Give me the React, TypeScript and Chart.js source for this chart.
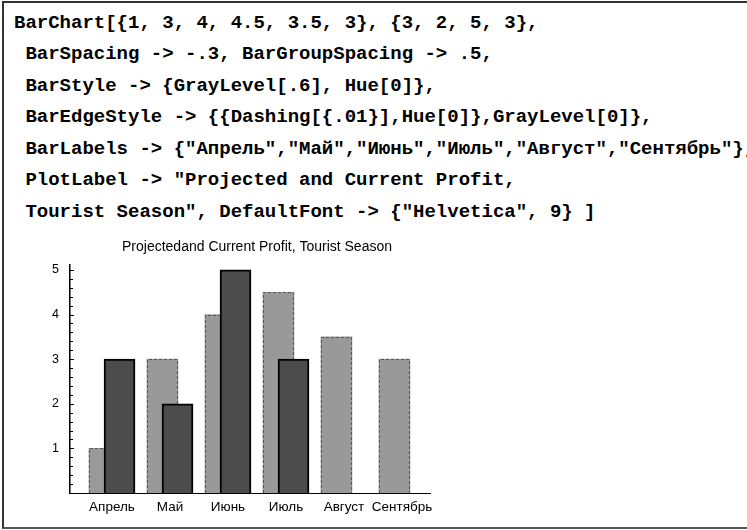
import { useEffect, useRef } from "react";
import { Chart, registerables } from "chart.js";

Chart.register(...registerables);

// ---- text of the notebook input cell ----
const CODE_LINES = [
  "BarChart[{1, 3, 4, 4.5, 3.5, 3}, {3, 2, 5, 3},",
  " BarSpacing -> -.3, BarGroupSpacing -> .5,",
  " BarStyle -> {GrayLevel[.6], Hue[0]},",
  " BarEdgeStyle -> {{Dashing[{.01}],Hue[0]},GrayLevel[0]},",
  ' BarLabels -> {"Апрель","Май","Июнь","Июль","Август","Сентябрь"},',
  ' PlotLabel -> "Projected and Current Profit,',
  ' Tourist Season", DefaultFont -> {"Helvetica", 9} ]',
];

// ---- chart data ----
const TITLE = "Projectedand Current Profit, Tourist Season";
const CATEGORIES = ["Апрель", "Май", "Июнь", "Июль", "Август", "Сентябрь"];
const PROJECTED = [1, 3, 4, 4.5, 3.5, 3];
const CURRENT = [3, 2, 5, 3];
const Y_TICK_LABELS = [1, 2, 3, 4, 5];
const Y_MIN = 0;
const Y_MAX = 5.11;
const Y_MINOR_STEP = 0.2;

// ---- layout / style constants ----
const BAR_SHIFT = 0.13; // half the offset between the two overlapping bars, in category units
const X_MIN = -0.724;
const X_MAX = 5.483;
const SANS = '"Liberation Sans", Arial, Helvetica, sans-serif';
const MONO = '"Liberation Mono", "DejaVu Sans Mono", monospace';
const CODE_FONT = 19;
const CODE_LEFT = 14;
const CODE_FIRST_Y = 23.5;
const CODE_STEP = 31.5;

export default function App() {
  const ref = useRef<HTMLCanvasElement>(null);

  useEffect(() => {
    const canvas = ref.current;
    if (!canvas) return;

    const dashedEdges = {
      id: "dashedEdges",
      afterDatasetDraw(chart: any, args: any) {
        const ds = chart.data.datasets[args.index];
        if (ds.label !== "Projected") return;
        const ctx = chart.ctx;
        ctx.save();
        ctx.strokeStyle = "#555555";
        ctx.lineWidth = 1;
        ctx.setLineDash([3, 2]);
        args.meta.data.forEach((el: any) => {
          const p = el.getProps(["x", "y", "base", "width"], true);
          const left = Math.round(p.x - p.width / 2) + 0.5;
          const right = Math.round(p.x + p.width / 2) - 0.5;
          const top = Math.round(p.y) + 0.5;
          const bottom = Math.round(p.base);
          ctx.beginPath();
          ctx.moveTo(left, bottom);
          ctx.lineTo(left, top);
          ctx.lineTo(right, top);
          ctx.lineTo(right, bottom);
          ctx.stroke();
        });
        ctx.restore();
      },
    };

    const inwardTicks = {
      id: "inwardTicks",
      afterDatasetsDraw(chart: any) {
        const y = chart.scales.y;
        const ctx = chart.ctx;
        const left = chart.chartArea.left;
        ctx.save();
        ctx.strokeStyle = "#000000";
        ctx.lineWidth = 1;
        y.ticks.forEach((t: any) => {
          if (t.value <= Y_MIN) return;
          const major = Y_TICK_LABELS.some((v) => Math.abs(v - t.value) < 1e-6);
          const py = Math.round(y.getPixelForValue(t.value)) + 0.5;
          ctx.beginPath();
          ctx.moveTo(left, py);
          ctx.lineTo(left + (major ? 4 : 3), py);
          ctx.stroke();
        });
        ctx.restore();
      },
    };

    const chart = new Chart(canvas, {
      type: "bar",
      data: {
        datasets: [
          {
            label: "Projected",
            data: PROJECTED.map((v, i) => ({ x: i - BAR_SHIFT, y: v })),
            backgroundColor: "#999999",
            borderWidth: 0,
            order: 2,
            grouped: false,
            barThickness: 31,
          },
          {
            label: "Current",
            data: CURRENT.map((v, i) => ({ x: i + BAR_SHIFT, y: v })),
            backgroundColor: "#4c4c4c",
            borderColor: "#000000",
            borderWidth: 2,
            order: 1,
            grouped: false,
            barThickness: 31,
          },
        ] as any,
      },
      options: {
        responsive: false,
        animation: false,
        layout: { padding: 0 },
        plugins: {
          legend: { display: false },
          tooltip: { enabled: false },
          title: {
            display: true,
            text: TITLE,
            color: "#000000",
            font: { family: SANS, size: 14, weight: "normal" },
            padding: { top: 12.6, bottom: 9.6 },
          },
        },
        scales: {
          x: {
            type: "linear",
            min: X_MIN,
            max: X_MAX,
            offset: false,
            grid: { display: false, drawTicks: false },
            border: { display: true, color: "#000000", width: 1 },
            ticks: {
              autoSkip: false,
              maxRotation: 0,
              minRotation: 0,
              padding: 6.4,
              color: "#000000",
              font: { family: SANS, size: 13.5 },
              callback: (_v: any, i: number) => CATEGORIES[i] ?? "",
            },
            afterBuildTicks: (s: any) => {
              s.ticks = CATEGORIES.map((_, i) => ({ value: i }));
            },
            afterFit: (s: any) => {
              s.height = 35;
              s.paddingLeft = 0;
              s.paddingRight = 84;
            },
          },
          y: {
            type: "linear",
            min: Y_MIN,
            max: Y_MAX,
            grid: { display: false, drawTicks: false },
            border: { display: true, color: "#000000", width: 1.5 },
            ticks: {
              stepSize: Y_MINOR_STEP,
              autoSkip: false,
              includeBounds: false,
              padding: 11,
              color: "#000000",
              font: { family: SANS, size: 12.5 },
              callback: (v: any) => {
                const hit = Y_TICK_LABELS.find((t) => Math.abs(t - Number(v)) < 1e-6);
                return hit !== undefined ? String(hit) : "";
              },
            },
            afterFit: (s: any) => {
              s.width = 70;
              s.paddingTop = 0;
              s.paddingBottom = 0;
            },
          },
        },
      } as any,
      plugins: [dashedEdges, inwardTicks],
    });

    return () => chart.destroy();
  }, []);

  return (
    <div
      style={{
        position: "fixed",
        left: 0,
        top: 0,
        width: 747,
        height: 530,
        overflow: "hidden",
        background: "#ffffff",
      }}
    >
      <div
        style={{
          position: "absolute",
          left: 2,
          top: 1,
          width: 780,
          height: 528,
          borderLeft: "2px solid #333333",
          borderTop: "2px solid #333333",
          borderBottom: "2px solid #555555",
          boxSizing: "border-box",
        }}
      />
      {CODE_LINES.map((line, i) => (
        <div
          key={i}
          style={{
            position: "absolute",
            left: CODE_LEFT,
            top: CODE_FIRST_Y + CODE_STEP * i - CODE_STEP / 2,
            height: CODE_STEP,
            lineHeight: `${CODE_STEP}px`,
            whiteSpace: "pre",
            fontFamily: MONO,
            fontWeight: "bold",
            fontSize: CODE_FONT,
            color: "#000000",
          }}
        >
          {line}
        </div>
      ))}
      <canvas
        ref={ref}
        width={514}
        height={302}
        style={{ position: "absolute", left: 0, top: 226, width: 514, height: 302 }}
      />
    </div>
  );
}
